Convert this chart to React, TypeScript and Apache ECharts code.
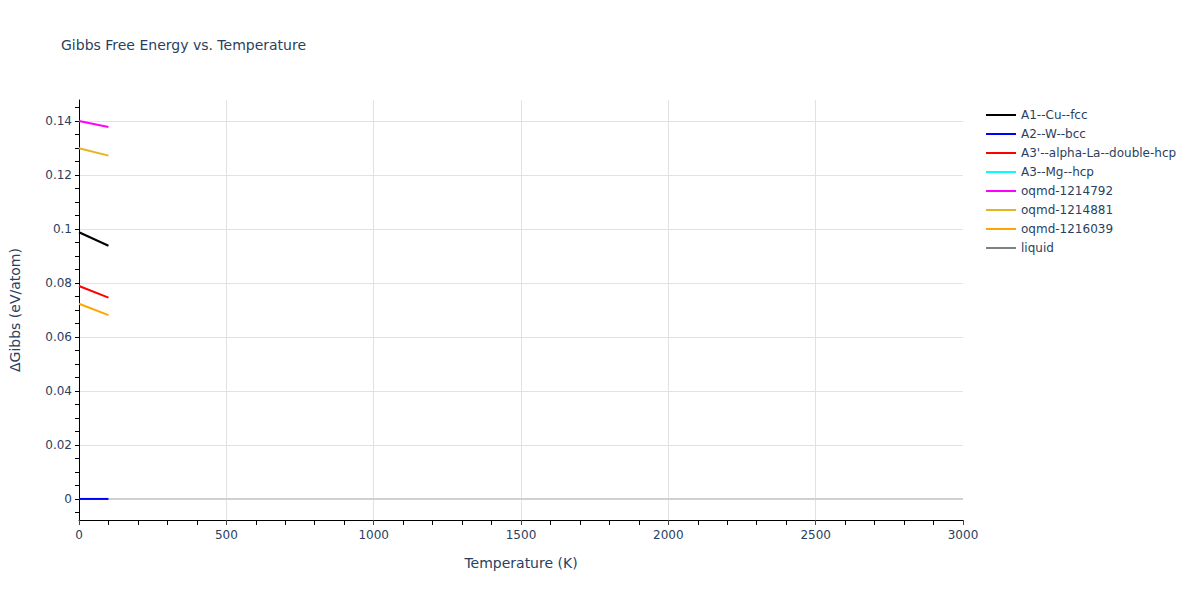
import { useEffect, useRef } from 'react'
import * as echarts from 'echarts'

// temperatures (K) at which every phase was sampled
const temperatures = [0, 100]

const seriesNames = [
  'A1--Cu--fcc',
  'A2--W--bcc',
  "A3'--alpha-La--double-hcp",
  'A3--Mg--hcp',
  'oqmd-1214792',
  'oqmd-1214881',
  'oqmd-1216039',
  'liquid',
]

const a1CuFcc = [0.0988, 0.0938]
const a2WBcc = [0, 0]
const a3AlphaLa = [0.0789, 0.0746]
const a3MgHcp: number[] = []
const oqmd1214792 = [0.14, 0.1378]
const oqmd1214881 = [0.1299, 0.1272]
const oqmd1216039 = [0.0723, 0.0681]
const liquid: number[] = []

const seriesValues = [a1CuFcc, a2WBcc, a3AlphaLa, a3MgHcp, oqmd1214792, oqmd1214881, oqmd1216039, liquid]

const seriesColors = ['#000000', '#0000ff', '#ff0000', '#00ffff', '#ff00ff', '#e6b422', '#ffa500', '#808080']

const FONT = '"DejaVu Sans", Verdana, sans-serif'
const TEXT_COLOR = '#2a3f5f'
const GRID_COLOR = '#e2e2e2'

export default function App() {
  const chartRef = useRef<HTMLDivElement>(null)

  useEffect(() => {
    if (!chartRef.current) return
    document.body.style.margin = '0'
    const chart = echarts.init(chartRef.current, undefined, { renderer: 'svg' })

    const lineSeries = seriesNames.map((name, i) => ({
      name,
      type: 'line',
      xAxisIndex: 0,
      yAxisIndex: 0,
      showSymbol: false,
      symbol: 'none',
      z: 10,
      color: seriesColors[i],
      lineStyle: { color: seriesColors[i], width: 2 },
      data: seriesValues[i].map((v, j) => [temperatures[j], v]),
    }))

    const option = {
      animation: false,
      backgroundColor: '#ffffff',
      textStyle: { fontFamily: FONT },
      title: {
        text: 'Gibbs Free Energy vs. Temperature',
        left: 56,
        top: 33,
        textStyle: { fontFamily: FONT, fontSize: 14, fontWeight: 'normal', color: TEXT_COLOR },
      },
      legend: {
        orient: 'vertical',
        left: 981,
        top: 104,
        icon: 'rect',
        itemWidth: 30,
        itemHeight: 2,
        itemGap: 7,
        data: seriesNames,
        textStyle: { fontFamily: FONT, fontSize: 12, color: TEXT_COLOR },
      },
      grid: [
        // data area
        { left: 79, right: 237, top: 100, bottom: 80, containLabel: false },
        // y ticks / labels / grid lines, -0.005 .. 0.145
        { left: 79, right: 237, top: 107.5, bottom: 87.5, containLabel: false },
      ],
      xAxis: [
        {
          type: 'value',
          gridIndex: 0,
          position: 'bottom',
          min: 0,
          max: 3000,
          interval: 500,
          name: 'Temperature (K)',
          nameLocation: 'middle',
          nameGap: 36,
          nameTextStyle: { fontFamily: FONT, fontSize: 14, color: TEXT_COLOR },
          axisLine: { show: true, onZero: false, lineStyle: { color: '#000000', width: 1 } },
          axisTick: { show: true, length: 5, lineStyle: { color: '#444444' } },
          minorTick: { show: true, splitNumber: 5, length: 5, lineStyle: { color: '#000000' } },
          axisLabel: {
            fontFamily: FONT,
            fontSize: 12,
            color: TEXT_COLOR,
            margin: 9,
            formatter: (v: number) => String(v),
          },
          splitLine: { show: true, showMinLine: false, showMaxLine: false, lineStyle: { color: GRID_COLOR, width: 1 } },
        },
        {
          type: 'value',
          gridIndex: 1,
          min: 0,
          max: 3000,
          show: false,
        },
      ],
      yAxis: [
        {
          type: 'value',
          gridIndex: 0,
          min: -0.0078,
          max: 0.1478,
          axisLine: { show: true, onZero: false, lineStyle: { color: '#000000', width: 1 } },
          axisTick: { show: false },
          axisLabel: { show: false },
          splitLine: { show: false },
        },
        {
          type: 'value',
          gridIndex: 1,
          min: -0.005,
          max: 0.145,
          interval: 0.005,
          name: 'ΔGibbs (eV/atom)',
          nameLocation: 'middle',
          nameGap: 58,
          nameTextStyle: { fontFamily: FONT, fontSize: 14, color: TEXT_COLOR },
          axisLine: { show: false, onZero: false },
          axisTick: { show: true, length: 5, lineStyle: { color: '#000000' } },
          axisLabel: {
            fontFamily: FONT,
            fontSize: 12,
            color: TEXT_COLOR,
            margin: 8,
            formatter: (v: number) => {
              const k = v * 50
              if (Math.abs(Math.round(k) - k) > 1e-6) return ''
              return String(Math.round(v * 100) / 100)
            },
          },
          splitLine: {
            show: true,
            lineStyle: {
              color: ['rgba(0,0,0,0)', GRID_COLOR, 'rgba(0,0,0,0)', 'rgba(0,0,0,0)'],
              width: 1,
            },
          },
        },
      ],
      series: [
        {
          name: '__zero',
          type: 'line',
          xAxisIndex: 0,
          yAxisIndex: 0,
          data: [],
          z: 1,
          silent: true,
          markLine: {
            z: 1,
            silent: true,
            symbol: 'none',
            label: { show: false },
            lineStyle: { color: '#d0d0d0', width: 2, type: 'solid' },
            data: [{ yAxis: 0 }],
          },
        },
        ...lineSeries,
      ],
    }

    chart.setOption(option)

    return () => {
      chart.dispose()
    }
  }, [])

  return <div ref={chartRef} style={{ width: '1200px', height: '600px' }} />
}
